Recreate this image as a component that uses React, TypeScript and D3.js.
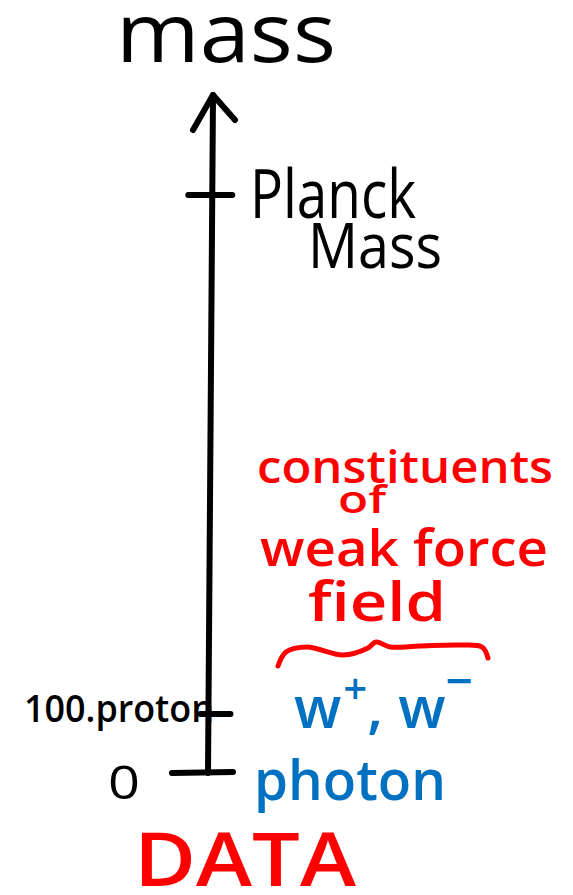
import React, {useEffect, useRef} from 'react';
import * as d3 from 'd3';

// schematic mass levels (rank on the axis, not to scale)
const tickLevels = [0, 1, 2];
const leftLabels = ['0', '100.proton', ''];
const rightLabels = ['photon', '', 'Planck'];
const particleW = ['w', '+', ', w', '−'];
const weakLines = ['constituents', 'of', 'weak force', 'field'];
const axisTitle = 'mass';
const footer = 'DATA';

const FONT = '"Open Sans", "DejaVu Sans", sans-serif';
const BLUE = '#0070c0';
const RED = '#ff0000';

const App = () => {
  const svgRef = useRef<SVGSVGElement>(null);

  useEffect(() => {
    const width = 573;
    const height = 895;
    const svg = d3.select(svgRef.current).attr('width', width).attr('height', height);
    svg.selectAll('*').remove();

    const y = d3.scaleLinear().domain([0, 1, 2]).range([773, 714, 195]);
    const axisTop = 95;
    // axis leans a little to the right as it goes up
    const x = d3.scaleLinear().domain([773, axisTop]).range([208, 213]);

    const g = svg.append('g')
      .attr('fill', 'none')
      .attr('stroke', '#000')
      .attr('stroke-linecap', 'round')
      .attr('stroke-linejoin', 'round');

    // main axis line
    g.append('line')
      .attr('x1', x(y(0))).attr('y1', y(0))
      .attr('x2', x(axisTop)).attr('y2', axisTop)
      .attr('stroke-width', 6);

    // arrow head
    g.append('path')
      .attr('d', `M${x(axisTop) - 20},${axisTop + 35} L${x(axisTop)},${axisTop} L${x(axisTop) + 22},${axisTop + 25}`)
      .attr('stroke-width', 6);

    // ticks
    const tickSpan = [[-36, 25], [-8, 22], [-24, 20]];
    g.selectAll('.tick')
      .data(tickLevels)
      .enter()
      .append('line')
      .attr('class', 'tick')
      .attr('x1', (d, i) => x(y(d)) + tickSpan[i][0])
      .attr('x2', (d, i) => x(y(d)) + tickSpan[i][1])
      .attr('y1', d => y(d))
      .attr('y2', d => y(d) + (d === 0 ? -1 : 0))
      .attr('stroke-width', 6);

    const text = (s: string, tx: number, ty: number, size: number, color: string, len?: number, weight = 400) => {
      const t = svg.append('text')
        .attr('x', tx).attr('y', ty)
        .attr('font-family', FONT)
        .attr('font-weight', weight)
        .attr('font-size', size)
        .attr('fill', color)
        .text(s);
      if (len) t.attr('textLength', len).attr('lengthAdjust', 'spacingAndGlyphs');
      return t;
    };

    // title
    text(axisTitle, 116, 62, 82, '#000', 220);

    // left labels
    text(leftLabels[0], 108, 799, 46, '#000', 32);
    text(leftLabels[1], 24, 722, 38, '#000', 190, 600);

    // Planck mass
    text(rightLabels[2], 250, 218, 68, '#000', 166);
    text('Mass', 308, 268, 62, '#000', 134);

    // photon
    text(rightLabels[0], 254, 800, 56, BLUE, 192, 600);

    // W+, W-
    const w = svg.append('text')
      .attr('x', 294).attr('y', 728)
      .attr('font-family', FONT)
      .attr('font-weight', 600)
      .attr('font-size', 58)
      .attr('fill', BLUE);
    w.append('tspan').text(particleW[0]);
    w.append('tspan').attr('dx', 2).attr('dy', -24).attr('font-size', 42).text(particleW[1]);
    w.append('tspan').attr('dy', 24).text(particleW[2]);
    w.append('tspan').attr('dy', -30).attr('font-size', 48).text(particleW[3]);

    // weak force annotation
    const wk = [
      {x: 257, y: 483, size: 46, len: 296},
      {x: 338, y: 513, size: 38, len: 48},
      {x: 260, y: 566, size: 50, len: 288},
      {x: 308, y: 621, size: 54, len: 138},
    ];
    weakLines.forEach((s, i) => text(s, wk[i].x, wk[i].y, wk[i].size, RED, wk[i].len, 600));

    // brace
    const brace: [number, number][] = [
      [278, 666], [286, 652], [307, 647], [343, 655], [368, 648], [376, 642],
      [390, 647], [420, 646], [460, 645], [482, 647], [488, 658],
    ];
    svg.append('path')
      .attr('d', d3.line().curve(d3.curveCatmullRom)(brace))
      .attr('fill', 'none')
      .attr('stroke', RED)
      .attr('stroke-width', 5)
      .attr('stroke-linecap', 'round');

    // footer
    text(footer, 134, 886, 74, RED, 222, 600);
  }, []);

  return (
    <div style={{position: 'absolute', left: 0, top: 0}}>
      <svg ref={svgRef}></svg>
    </div>
  );
};

export default App;
